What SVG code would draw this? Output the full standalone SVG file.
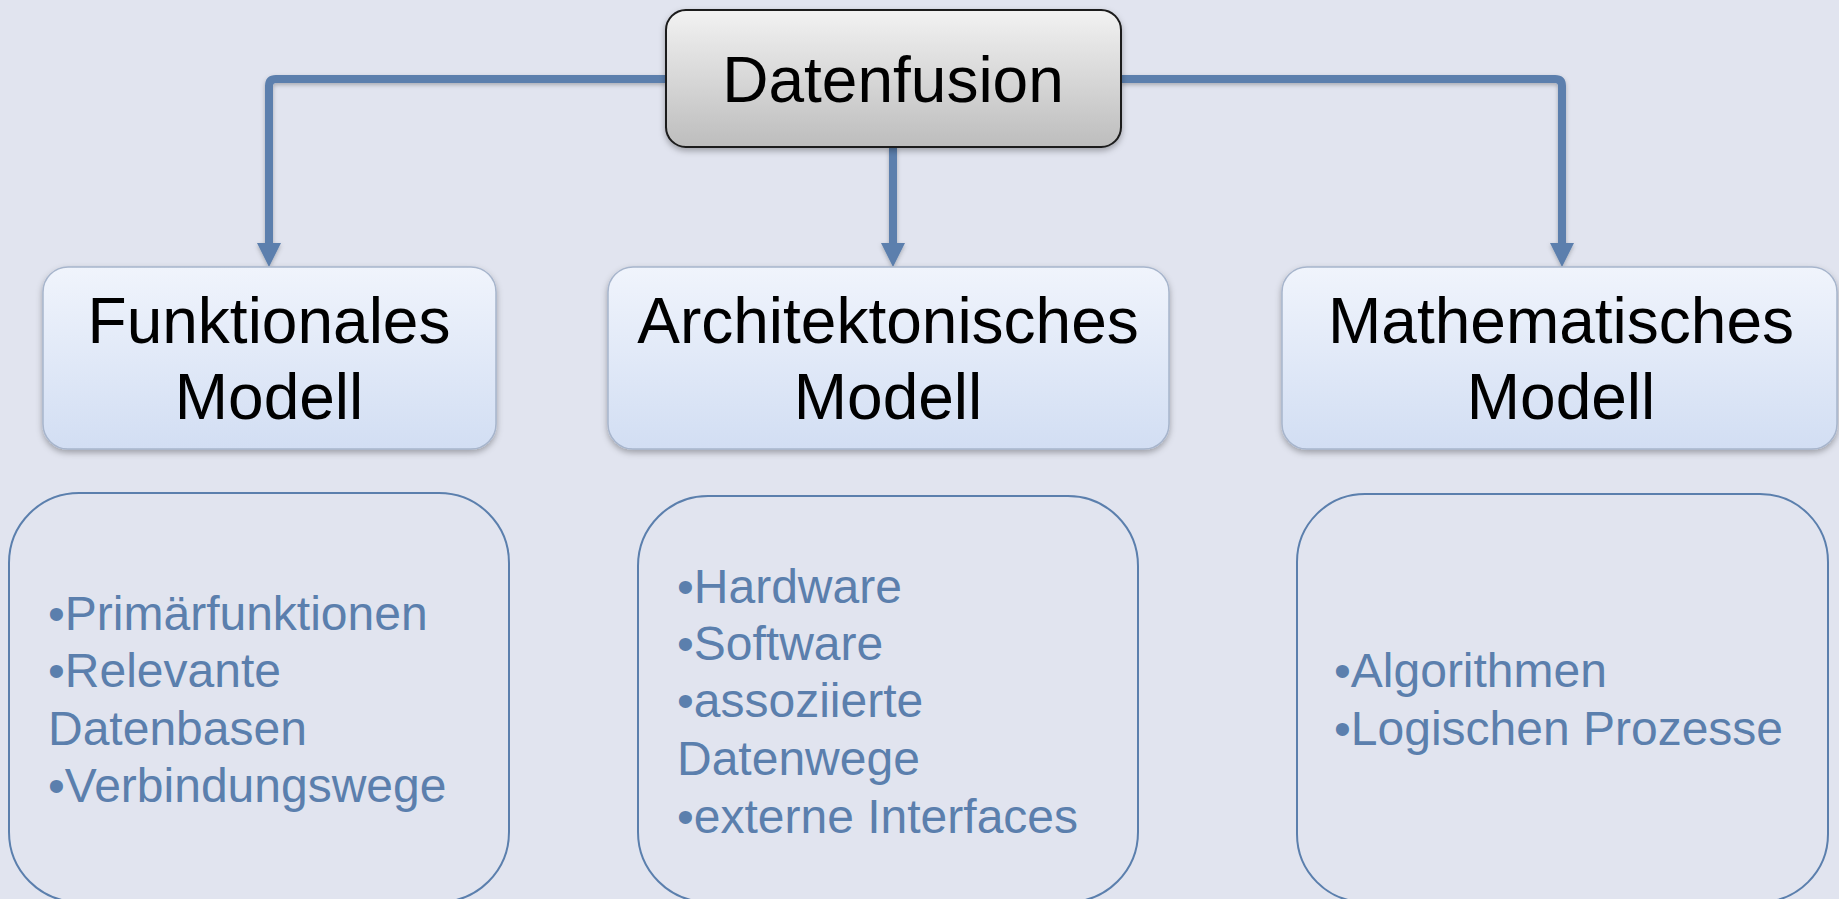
<svg xmlns="http://www.w3.org/2000/svg" width="1839" height="899" viewBox="0 0 1839 899">
  <defs>
    <linearGradient id="gTop" x1="0" y1="0" x2="0" y2="1">
      <stop offset="0" stop-color="#f2f2f2"/>
      <stop offset="1" stop-color="#bdbdbd"/>
    </linearGradient>
    <linearGradient id="gTitle" x1="0" y1="0" x2="0" y2="1">
      <stop offset="0" stop-color="#f0f4fc"/>
      <stop offset="1" stop-color="#d2def3"/>
    </linearGradient>
    <filter id="shadow" x="-10%" y="-10%" width="120%" height="130%">
      <feDropShadow dx="0" dy="3" stdDeviation="3" flood-color="#000" flood-opacity="0.3"/>
    </filter>
    <filter id="lshadow" x="-10%" y="-10%" width="120%" height="130%">
      <feDropShadow dx="0" dy="2" stdDeviation="2" flood-color="#000" flood-opacity="0.25"/>
    </filter>
    <marker id="arrow" markerUnits="userSpaceOnUse" markerWidth="24" markerHeight="24" viewBox="0 0 24 24" refX="0" refY="12" orient="auto">
      <path d="M0,0 L24,12 L0,24 z" fill="#5b7fad"/>
    </marker>
    <style>
      .bg { fill: #e1e4ef; }
      .conn { fill: none; stroke: #5b7fad; stroke-width: 8; stroke-linejoin: round; }
      .topbox { fill: url(#gTop); stroke: #1a1a1a; stroke-width: 2; }
      .titlebox { fill: url(#gTitle); stroke: #a7b5cc; stroke-width: 1.5; }
      .listbox { fill: none; stroke: #5b7fad; stroke-width: 2; }
      .ttl { font-family: "Liberation Sans", Arial, sans-serif; font-size: 64px; fill: #000; text-anchor: middle; }
      .lst { font-family: "Liberation Sans", Arial, sans-serif; font-size: 48px; fill: #5b7fad; }
    </style>
  </defs>

  <rect class="bg" x="0" y="0" width="1839" height="899"/>

  <g id="connectors" filter="url(#lshadow)">
    <path class="conn" d="M666,79 L276,79 Q269,79 269,86 L269,243" marker-end="url(#arrow)"/>
    <path class="conn" d="M893,147 L893,243" marker-end="url(#arrow)"/>
    <path class="conn" d="M1121,79 L1555,79 Q1562,79 1562,86 L1562,243" marker-end="url(#arrow)"/>
  </g>

  <g id="node-datenfusion">
    <rect class="topbox" x="666" y="10" width="455" height="137" rx="20" filter="url(#shadow)"/>
    <text class="ttl" x="893" y="102">Datenfusion</text>
  </g>

  <g id="node-funktionales">
    <rect class="titlebox" x="43" y="267" width="453" height="182" rx="25" filter="url(#shadow)"/>
    <text class="ttl" x="269" y="343">Funktionales</text>
    <text class="ttl" x="269" y="419">Modell</text>
  </g>

  <g id="node-architektonisches">
    <rect class="titlebox" x="608" y="267" width="561" height="182" rx="25" filter="url(#shadow)"/>
    <text class="ttl" x="888" y="343">Architektonisches</text>
    <text class="ttl" x="888" y="419">Modell</text>
  </g>

  <g id="node-mathematisches">
    <rect class="titlebox" x="1282" y="267" width="555" height="182" rx="25" filter="url(#shadow)"/>
    <text class="ttl" x="1561" y="343">Mathematisches</text>
    <text class="ttl" x="1561" y="419">Modell</text>
  </g>

  <g id="list-funktionales">
    <rect class="listbox" x="9" y="493" width="500" height="409" rx="70"/>
    <text class="lst">
      <tspan x="48" y="630">•Primärfunktionen</tspan>
      <tspan x="48" y="687">•Relevante</tspan>
      <tspan x="48" y="745">Datenbasen</tspan>
      <tspan x="48" y="802">•Verbindungswege</tspan>
    </text>
  </g>

  <g id="list-architektonisches">
    <rect class="listbox" x="638" y="496" width="500" height="406" rx="70"/>
    <text class="lst">
      <tspan x="677" y="603">•Hardware</tspan>
      <tspan x="677" y="660">•Software</tspan>
      <tspan x="677" y="717">•assoziierte</tspan>
      <tspan x="677" y="775">Datenwege</tspan>
      <tspan x="677" y="833">•externe Interfaces</tspan>
    </text>
  </g>

  <g id="list-mathematisches">
    <rect class="listbox" x="1297" y="494" width="531" height="408" rx="68"/>
    <text class="lst">
      <tspan x="1334" y="687">•Algorithmen</tspan>
      <tspan x="1334" y="745">•Logischen Prozesse</tspan>
    </text>
  </g>
</svg>
